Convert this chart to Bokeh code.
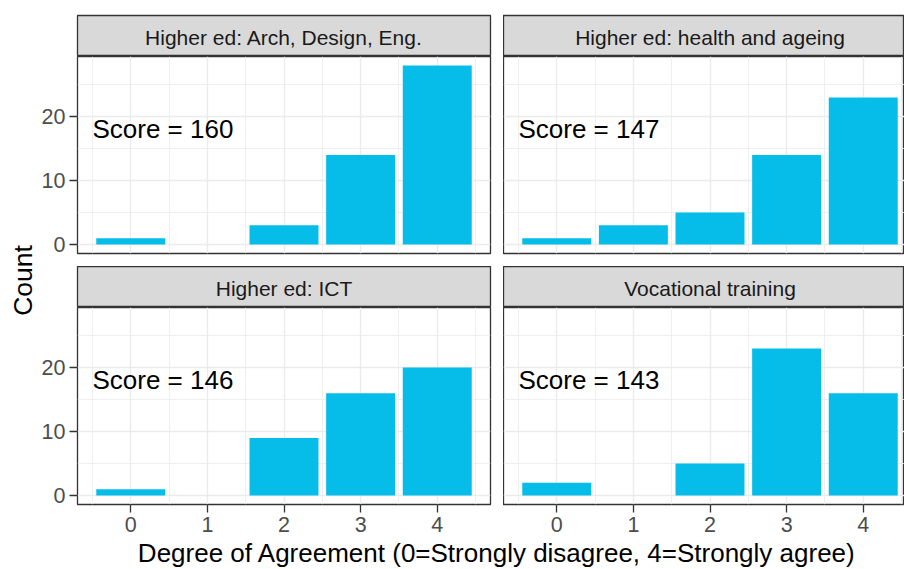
import math
from bokeh.plotting import figure
from bokeh.layouts import column, row
from bokeh.models import Range1d, FixedTicker, Grid
from bokeh.core.properties import value
from bokeh.embed import file_html
from bokeh.resources import INLINE

# ---------------- data ----------------
levels = [0, 1, 2, 3, 4]
panel_titles = [
    "Higher ed: Arch, Design, Eng.",
    "Higher ed: health and ageing",
    "Higher ed: ICT",
    "Vocational training",
]
counts_arch = [1, 0, 3, 14, 28]
counts_health = [1, 3, 5, 14, 23]
counts_ict = [1, 0, 9, 16, 20]
counts_voc = [2, 0, 5, 23, 16]
scores = [160, 147, 146, 143]
x_ticks = [0, 1, 2, 3, 4]
x_tick_labels = {0: "0", 1: "1", 2: "2", 3: "3", 4: "4"}
x_minor = [-0.5, 0.5, 1.5, 2.5, 3.5, 4.5]
y_ticks = [0, 10, 20]
y_minor = [5, 15, 25]
score_label_x = -0.5
score_label_y = 18
y_title = "Count"
x_title = "Degree of Agreement (0=Strongly disagree, 4=Strongly agree)"

# ---------------- style / layout ----------------
FONT = "Liberation Sans"
BAR = "#05BDE8"
BORDER = "#333333"
GRID = "#EBEBEB"
STRIP_FILL = "#D9D9D9"

W_YLAB = 38
LEFT_BORDER = 39
FRAME_W_L = 413
GAP = 13
FRAME_W_R = 401
TOP_PAD = 15
STRIP_H = 41
FRAME_H = 197
ROW_GAP = 13
BOTTOM_AXIS = 36
XLAB_H = 33
BAR_W = 0.9

all_counts = counts_arch + counts_health + counts_ict + counts_voc
ymax = max(all_counts)
y_lo, y_hi = -0.05 * ymax, ymax * 1.05
x_span = (max(levels) + BAR_W / 2) - (min(levels) - BAR_W / 2)
x_lo = min(levels) - BAR_W / 2 - 0.05 * x_span
x_hi = max(levels) + BAR_W / 2 + 0.05 * x_span
x_hi_right = x_lo + (x_hi - x_lo) * FRAME_W_R / FRAME_W_L  # right column clipped by window
strip_label_x = (x_lo + x_hi) / 2


def base_fig(width, height, xr, yr, xloc=None, yloc=None, mb=(0, 0, 0, 0)):
    p = figure(width=width, height=height, x_range=xr, y_range=yr,
               x_axis_location=xloc, y_axis_location=yloc,
               toolbar_location=None, output_backend="svg",
               min_border_left=mb[0], min_border_right=mb[1],
               min_border_top=mb[2], min_border_bottom=mb[3])
    p.border_fill_color = "white"
    p.background_fill_color = "white"
    return p


def make_panel(counts, score, xr, yr, frame_w, left_axis, bottom_axis, mb_left, mb_right, mb_bottom):
    p = base_fig(mb_left + frame_w + mb_right, FRAME_H + mb_bottom, xr, yr,
                 xloc="below" if bottom_axis else None,
                 yloc="left" if left_axis else None,
                 mb=(mb_left, mb_right, 0, mb_bottom))
    p.outline_line_color = BORDER
    p.outline_line_width = 1.3
    if len(p.xgrid) == 0:
        p.add_layout(Grid(dimension=0), "center")
    if len(p.ygrid) == 0:
        p.add_layout(Grid(dimension=1), "center")
    for g, t, m in ((p.xgrid, x_ticks, x_minor), (p.ygrid, y_ticks, y_minor)):
        g.ticker = FixedTicker(ticks=t, minor_ticks=m)
        g.grid_line_color = GRID
        g.grid_line_width = 1.4
        g.minor_grid_line_color = GRID
        g.minor_grid_line_width = 0.8
    axes = []
    if left_axis:
        p.yaxis.ticker = FixedTicker(ticks=y_ticks)
        p.yaxis.major_label_standoff = 4
        axes.append(p.yaxis)
    if bottom_axis:
        p.xaxis.ticker = FixedTicker(ticks=x_ticks)
        p.xaxis.major_label_overrides = x_tick_labels
        p.xaxis.major_label_standoff = 4
        axes.append(p.xaxis)
    for ax in axes:
        ax.axis_line_color = None
        ax.major_tick_line_color = BORDER
        ax.major_tick_line_width = 1.3
        ax.major_tick_in = 0
        ax.major_tick_out = 8
        ax.minor_tick_line_color = None
        ax.major_label_text_font = FONT
        ax.major_label_text_font_size = "21.5px"
        ax.major_label_text_color = "#4D4D4D"
    p.vbar(x=levels, top=counts, bottom=0, width=BAR_W, fill_color=BAR, line_color=None)
    p.text(x=[score_label_x], y=[score_label_y], text=[f"Score = {score}"],
           text_font=value(FONT), text_font_size=value("26px"), text_color="black",
           text_align="left", text_baseline="middle")
    return p


def make_strip(title, xr, frame_w, mb_left, mb_right, mb_top):
    s = base_fig(mb_left + frame_w + mb_right, STRIP_H + mb_top, xr, Range1d(0, 1),
                 mb=(mb_left, mb_right, mb_top, 0))
    s.grid.visible = False
    s.background_fill_color = STRIP_FILL
    s.outline_line_color = BORDER
    s.outline_line_width = 1.3
    s.text(x=[strip_label_x], y=[0.47], text=[title], text_font=value(FONT),
           text_font_size=value("21px"), text_color="#1A1A1A",
           text_align="center", text_baseline="middle")
    return s


yr = Range1d(y_lo, y_hi)
xr_l_top = Range1d(x_lo, x_hi)
xr_r_top = Range1d(x_lo, x_hi_right)
xr_l_bot = Range1d(x_lo, x_hi)
xr_r_bot = Range1d(x_lo, x_hi_right)

s1 = make_strip(panel_titles[0], xr_l_top, FRAME_W_L, LEFT_BORDER, GAP, TOP_PAD)
p1 = make_panel(counts_arch, scores[0], xr_l_top, yr, FRAME_W_L, True, False, LEFT_BORDER, GAP, ROW_GAP)
s3 = make_strip(panel_titles[2], xr_l_bot, FRAME_W_L, LEFT_BORDER, GAP, 0)
p3 = make_panel(counts_ict, scores[2], xr_l_bot, yr, FRAME_W_L, True, True, LEFT_BORDER, GAP, BOTTOM_AXIS)

s2 = make_strip(panel_titles[1], xr_r_top, FRAME_W_R, 0, 0, TOP_PAD)
p2 = make_panel(counts_health, scores[1], xr_r_top, yr, FRAME_W_R, False, False, 0, 0, ROW_GAP)
s4 = make_strip(panel_titles[3], xr_r_bot, FRAME_W_R, 0, 0, 0)
p4 = make_panel(counts_voc, scores[3], xr_r_bot, yr, FRAME_W_R, False, True, 0, 0, BOTTOM_AXIS)

left_col = column(s1, p1, s3, p3, spacing=0)
right_col = column(s2, p2, s4, p4, spacing=0)

col_h = TOP_PAD + STRIP_H + FRAME_H + ROW_GAP + STRIP_H + FRAME_H + BOTTOM_AXIS
total_w = W_YLAB + LEFT_BORDER + FRAME_W_L + GAP + FRAME_W_R

ylab = base_fig(W_YLAB, col_h, Range1d(0, W_YLAB), Range1d(0, col_h))
ylab.grid.visible = False
ylab.outline_line_color = None
ylab_center = TOP_PAD + STRIP_H + (FRAME_H * 2 + ROW_GAP + STRIP_H) / 2
ylab.text(x=[22], y=[col_h - ylab_center], text=[y_title], angle=math.pi / 2,
          text_font=value(FONT), text_font_size=value("26.5px"), text_color="black",
          text_align="center", text_baseline="middle")

xlab = base_fig(total_w, XLAB_H, Range1d(0, total_w), Range1d(0, XLAB_H))
xlab.grid.visible = False
xlab.outline_line_color = None
xlab_center = W_YLAB + LEFT_BORDER + (FRAME_W_L * 2 + GAP) / 2
xlab.text(x=[xlab_center], y=[20.5], text=[x_title],
          text_font=value(FONT), text_font_size=value("26px"), text_color="black",
          text_align="center", text_baseline="middle")

layout = column(row(ylab, left_col, right_col, spacing=0), xlab, spacing=0)

open("out.html", "w").write(file_html(layout, INLINE))
